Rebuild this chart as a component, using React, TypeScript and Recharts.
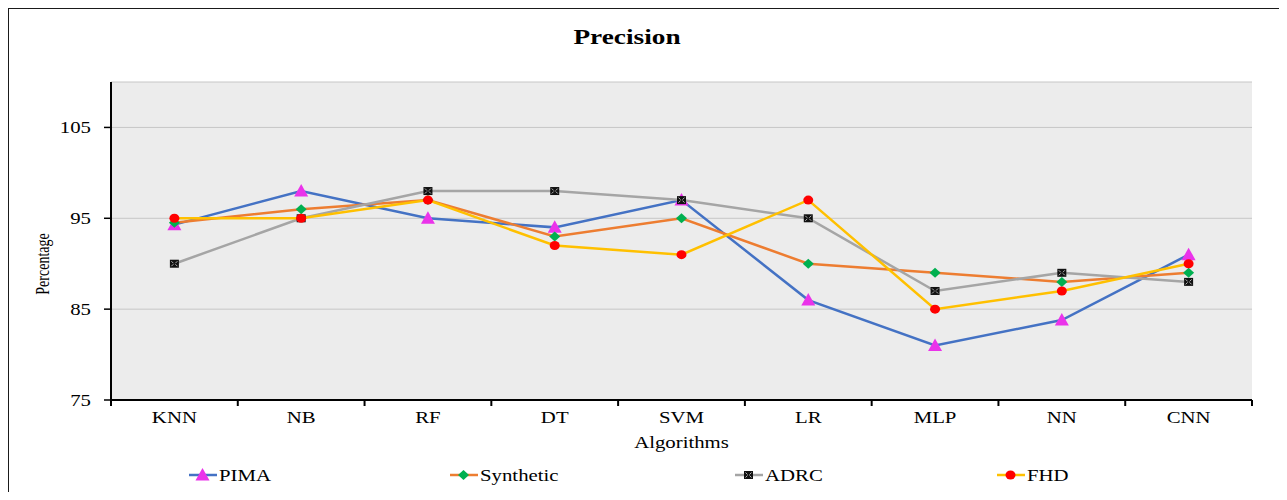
import { CartesianGrid, Line, LineChart, XAxis, YAxis } from "recharts"

const algorithms = ["KNN", "NB", "RF", "DT", "SVM", "LR", "MLP", "NN", "CNN"]
const pima = [94.3, 98, 95, 94, 97, 86, 81, 83.8, 91]
const synthetic = [94.5, 96, 97, 93, 95, 90, 89, 88, 89]
const adrc = [90, 95, 98, 98, 97, 95, 87, 89, 88]
const fhd = [95, 95, 97, 92, 91, 97, 85, 87, 90]
const yTicks = [75, 85, 95, 105]

const data = algorithms.map((name, i) => ({
  name,
  PIMA: pima[i],
  Synthetic: synthetic[i],
  ADRC: adrc[i],
  FHD: fhd[i],
}))

const FONT = "'Liberation Serif', 'Times New Roman', serif"
const STRETCH = 1.3
const PLOT_LEFT = 111
const PLOT_RIGHT = 1252
const PLOT_BOTTOM = 400
const BAND = (PLOT_RIGHT - PLOT_LEFT) / algorithms.length

// wide serif text, like the original export
function WideText({ x, y, children, anchor = "middle", size = 16, weight = "normal", rotate = 0 }: any) {
  const t = rotate
    ? `translate(${x},${y}) rotate(${rotate}) scale(1,${STRETCH})`
    : `translate(${x},${y}) scale(${STRETCH},1)`
  return (
    <text transform={t} textAnchor={anchor} fontFamily={FONT} fontSize={size} fontWeight={weight} fill="#000">
      {children}
    </text>
  )
}

function Triangle({ cx, cy }: any) {
  if (cx == null || cy == null) return null
  return <polygon points={`${cx},${cy - 7} ${cx - 7},${cy + 5.5} ${cx + 7},${cy + 5.5}`} fill="#EA33EA" />
}

function Diamond({ cx, cy }: any) {
  if (cx == null || cy == null) return null
  return <polygon points={`${cx},${cy - 5} ${cx + 5.5},${cy} ${cx},${cy + 5} ${cx - 5.5},${cy}`} fill="#00B050" />
}

function XSquare({ cx, cy }: any) {
  if (cx == null || cy == null) return null
  return (
    <g>
      <rect x={cx - 4.5} y={cy - 4} width={9} height={8} fill="#111" />
      <path
        d={`M${cx - 3},${cy - 2.5} L${cx - 1},${cy - 0.5} M${cx + 3},${cy - 2.5} L${cx + 1},${cy - 0.5} M${cx - 3},${cy + 2.5} L${cx - 1},${cy + 0.5} M${cx + 3},${cy + 2.5} L${cx + 1},${cy + 0.5}`}
        stroke="#ddd"
        strokeWidth={0.8}
      />
    </g>
  )
}

function RedDot({ cx, cy }: any) {
  if (cx == null || cy == null) return null
  return <ellipse cx={cx} cy={cy} rx={5} ry={4.5} fill="#FF0000" />
}

const series = [
  { key: "PIMA", color: "#4472C4", Marker: Triangle, legendX: 189 },
  { key: "Synthetic", color: "#ED7D31", Marker: Diamond, legendX: 450 },
  { key: "ADRC", color: "#A5A5A5", Marker: XSquare, legendX: 735 },
  { key: "FHD", color: "#FFC000", Marker: RedDot, legendX: 997 },
]

function CategoryTick({ x, payload, index }: any) {
  const left = x - BAND / 2
  return (
    <g>
      <line x1={left} y1={PLOT_BOTTOM} x2={left} y2={PLOT_BOTTOM + 6} stroke="#000" strokeWidth={2} />
      {index === algorithms.length - 1 && (
        <line x1={x + BAND / 2} y1={PLOT_BOTTOM} x2={x + BAND / 2} y2={PLOT_BOTTOM + 6} stroke="#000" strokeWidth={2} />
      )}
      <WideText x={x} y={423}>{payload.value}</WideText>
    </g>
  )
}

function ValueTick({ y, payload }: any) {
  return <WideText x={91} y={y + 5.5} anchor="end">{payload.value}</WideText>
}

export default function App() {
  return (
    <div style={{ position: "relative", width: 1287, height: 500, margin: -8, overflow: "hidden", background: "#fff" }}>
      <div
        style={{
          position: "absolute",
          left: 7,
          top: 7,
          width: 1271,
          height: 520,
          border: "2px solid #1a1a1a",
        }}
      />
      <LineChart
        width={1287}
        height={500}
        data={data}
        margin={{ top: 82, right: 1287 - PLOT_RIGHT, bottom: 500 - PLOT_BOTTOM - 30, left: PLOT_LEFT - 60 }}
        style={{ position: "absolute", left: 0, top: 0 }}
      >
        <CartesianGrid vertical={false} stroke="#C6C6C6" fill="#ECECEC" />
        <XAxis
          dataKey="name"
          height={30}
          padding={{ left: BAND / 2, right: BAND / 2 }}
          axisLine={{ stroke: "#000", strokeWidth: 2 }}
          tickLine={false}
          tick={<CategoryTick />}
          interval={0}
          label={{ content: () => <WideText x={(PLOT_LEFT + PLOT_RIGHT) / 2} y={448}>Algorithms</WideText> }}
        />
        <YAxis
          width={60}
          domain={[75, 110]}
          ticks={yTicks}
          allowDataOverflow
          axisLine={{ stroke: "#000", strokeWidth: 2 }}
          tickLine={{ stroke: "#000", strokeWidth: 1.5 }}
          tickSize={7}
          tick={<ValueTick />}
        />
        {series.map(({ key, color, Marker }) => (
          <Line
            key={key}
            type="linear"
            dataKey={key}
            stroke={color}
            strokeWidth={2.5}
            dot={<Marker />}
            activeDot={false}
            isAnimationActive={false}
          />
        ))}
      </LineChart>
      <svg width={1287} height={500} style={{ position: "absolute", left: 0, top: 0, pointerEvents: "none" }}>
        <WideText x={627} y={44} size={21} weight="bold">Precision</WideText>
        <WideText x={49} y={264} size={14} rotate={-90}>Percentage</WideText>
        {/* legend row */}
        {series.map(({ key, color, Marker, legendX }) => (
          <g key={key}>
            <line x1={legendX} y1={475} x2={legendX + 28} y2={475} stroke={color} strokeWidth={2.5} />
            <Marker cx={legendX + 13.5} cy={475} />
            <WideText x={legendX + 30} y={481} anchor="start">{key}</WideText>
          </g>
        ))}
      </svg>
    </div>
  )
}
